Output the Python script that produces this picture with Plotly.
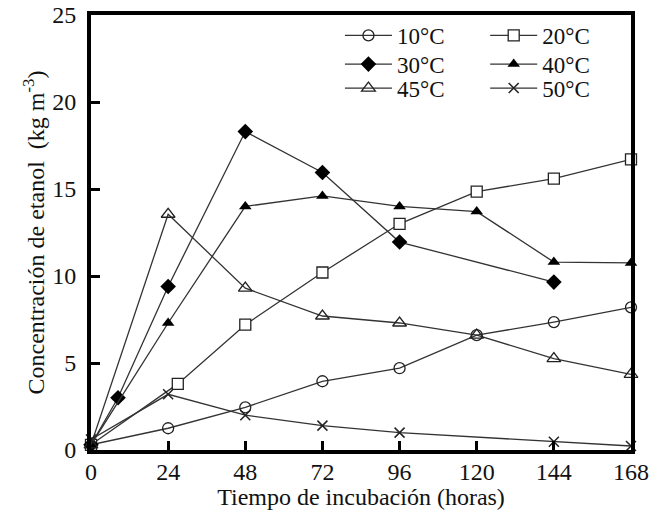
import plotly.graph_objects as go

# Data (hours, kg m^-3)
t10 = [0, 24, 48, 72, 96, 120, 144, 168]
c10 = [0.3, 1.25, 2.45, 3.95, 4.7, 6.6, 7.35, 8.2]

t20 = [0, 27, 48, 72, 96, 120, 144, 168]
c20 = [0.3, 3.8, 7.2, 10.2, 13.0, 14.85, 15.6, 16.7]

t30 = [0, 8.4, 24, 48, 72, 96, 144]
c30 = [0.3, 3.0, 9.4, 18.3, 15.95, 11.95, 9.65]

t40 = [0, 24, 48, 72, 96, 120, 144, 168]
c40 = [0.3, 7.3, 14.0, 14.6, 14.0, 13.7, 10.8, 10.75]

t45 = [0, 24, 48, 72, 96, 120, 144, 168]
c45 = [0.3, 13.55, 9.3, 7.7, 7.3, 6.6, 5.25, 4.35]

t50 = [0, 24, 48, 72, 96, 144, 168]
c50 = [0.6, 3.2, 2.0, 1.4, 1.0, 0.47, 0.23]

x_ticks = [0, 24, 48, 72, 96, 120, 144, 168]
y_ticks = [0, 5, 10, 15, 20, 25]

FONT = "Liberation Serif"
LC = "#333333"

series = [
    ("10°C", t10, c10, dict(symbol="circle-open", size=11, color="#222", line=dict(width=1.3))),
    ("20°C", t20, c20, dict(symbol="square", size=11, color="white", line=dict(color="#222", width=1.3))),
    ("30°C", t30, c30, dict(symbol="diamond", size=12, color="black")),
    ("40°C", t40, c40, dict(symbol="triangle-up", size=11, color="black")),
    ("45°C", t45, c45, dict(symbol="triangle-up-open", size=12, color="#222", line=dict(width=1.3))),
    ("50°C", t50, c50, dict(symbol="x-thin-open", size=10, color="#222", line=dict(color="#222", width=1.5))),
]

# legend layout: 2 columns x 3 rows (one legend box per entry)
col_x = [0.461, 0.730]
row_y = [0.953, 0.887, 0.832]
LEG_FONT = dict(size=23, family=FONT, color="#111")

fig = go.Figure()
legends = {}
for i, (name, x, y, mk) in enumerate(series):
    key = "legend" if i == 0 else f"legend{i + 1}"
    fig.add_trace(go.Scatter(
        x=x, y=y, name=name, mode="lines+markers",
        line=dict(color=LC, width=1.3),
        marker=mk, cliponaxis=False, legend=key, showlegend=True,
    ))
    legends[key] = dict(x=col_x[i % 2], y=row_y[i // 2], xanchor="left", yanchor="middle",
                        bgcolor="rgba(0,0,0,0)", font=LEG_FONT, itemwidth=47, visible=True)

fig.update_layout(
    width=652, height=510,
    margin=dict(l=91, r=21, t=15, b=60),
    paper_bgcolor="white", plot_bgcolor="white",
    font=dict(family=FONT, color="#111", size=24),
    showlegend=True,
    **legends,
)
fig.update_xaxes(
    range=[0, 168], tickvals=x_ticks, ticktext=[str(v) for v in x_ticks],
    showgrid=False, zeroline=False, automargin=False,
    showline=True, linecolor="black", linewidth=4, mirror=True,
    ticks="inside", ticklen=9, tickwidth=3, tickcolor="black",
    tickfont=dict(size=24, family=FONT), ticklabelstandoff=-3,
    title=dict(text="Tiempo de incubación (horas)", font=dict(size=24, family=FONT), standoff=4),
)
fig.update_yaxes(
    range=[0, 25], tickvals=y_ticks, ticktext=[str(v) for v in y_ticks],
    showgrid=False, zeroline=False, automargin=False,
    showline=True, linecolor="black", linewidth=4, mirror=True,
    ticks="inside", ticklen=9, tickwidth=3, tickcolor="black",
    tickfont=dict(size=24, family=FONT), ticklabelstandoff=6,
    title=dict(text="Concentración de etanol  (kg m<sup>-3</sup>)", font=dict(size=24, family=FONT), standoff=2),
)

fig.write_html("out.html")
